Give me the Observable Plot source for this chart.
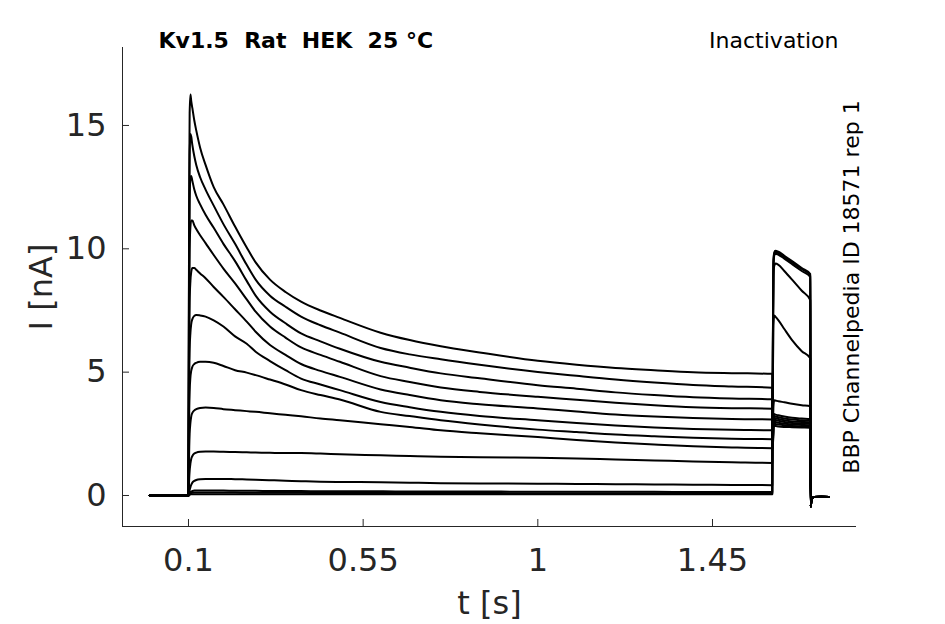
<!DOCTYPE html>
<html><head><meta charset="utf-8">
<script src="https://cdn.jsdelivr.net/npm/d3@7"></script>
<script src="https://cdn.jsdelivr.net/npm/@observablehq/plot@0.6"></script>
<style>body{margin:0;background:#fff} svg{display:block}</style>
</head><body><div id="chart"></div>
<script>
// ---- text ----
const title = "Kv1.5  Rat  HEK  25 °C";
const protocol = "Inactivation";
const sourceLabel = "BBP Channelpedia ID 18571 rep 1";
const xLabel = "t [s]";
const yLabel = "I [nA]";
const xTicks = [0.1, 0.55, 1, 1.45];
const xTickLabels = ["0.1", "0.55", "1", "1.45"];
const yTicks = [0, 5, 10, 15];
const xDomain = [-0.07, 1.821];
const yDomain = [-1.257, 18.16];

// ---- sample times (s) ----
const tPre = [0, 0.0998, 0.1, 0.101, 0.102, 0.103, 0.105, 0.107, 0.11, 0.115, 0.12, 0.13, 0.144, 0.165, 0.19, 0.22, 0.25, 0.273, 0.31, 0.35, 0.39, 0.44, 0.49, 0.595, 0.67, 0.75, 0.85, 1.0, 1.1, 1.2, 1.3, 1.4, 1.5, 1.604];
const tTest = [1.6055, 1.607, 1.609, 1.612, 1.62, 1.635, 1.655, 1.68, 1.702];
const tTail = [1.703, 1.7045, 1.707, 1.712, 1.73, 1.75];
const iTail = [-0.45, -0.25, -0.1, -0.06, -0.05, -0.06];

// ---- currents (nA), prepulse part ----
const pre1 = [0, 0, 0, 8, 13, 15.5, 16.25, 16.0, 15.7, 15.2, 14.8, 14.1, 13.4, 12.5, 11.8, 10.9, 10.05, 9.45, 8.75, 8.25, 7.86, 7.5, 7.2, 6.6, 6.3, 6.05, 5.8, 5.46, 5.3, 5.17, 5.08, 5.0, 4.96, 4.93];
const pre2 = [0, 0, 0, 7, 11.5, 13.8, 14.65, 14.55, 14.2, 13.75, 13.4, 12.9, 12.4, 11.75, 11.0, 10.2, 9.35, 8.75, 8.1, 7.65, 7.25, 6.9, 6.6, 5.98, 5.72, 5.52, 5.3, 5.01, 4.85, 4.7, 4.58, 4.48, 4.42, 4.37];
const pre3 = [0, 0, 0, 6, 10, 12, 12.9, 12.95, 12.75, 12.4, 12.15, 11.8, 11.38, 10.85, 10.2, 9.5, 8.7, 8.1, 7.45, 6.98, 6.57, 6.25, 5.95, 5.42, 5.18, 4.95, 4.75, 4.47, 4.33, 4.18, 4.07, 3.98, 3.93, 3.9];
const pre4 = [0, 0, 0, 5, 8.5, 10.0, 10.9, 11.15, 11.15, 10.95, 10.8, 10.55, 10.23, 9.75, 9.2, 8.6, 7.95, 7.45, 6.85, 6.4, 6.0, 5.7, 5.42, 4.84, 4.6, 4.38, 4.2, 4.0, 3.88, 3.76, 3.66, 3.58, 3.54, 3.52];
const pre5 = [0, 0, 0, 4, 6.5, 7.8, 8.7, 9.05, 9.22, 9.22, 9.15, 9.0, 8.81, 8.45, 8.05, 7.55, 7.05, 6.64, 6.1, 5.7, 5.33, 5.05, 4.81, 4.3, 4.07, 3.86, 3.7, 3.53, 3.4, 3.28, 3.2, 3.14, 3.1, 3.08];
const pre6 = [0, 0, 0, 3, 5, 5.9, 6.6, 6.95, 7.15, 7.28, 7.32, 7.3, 7.25, 7.1, 6.85, 6.45, 6.15, 5.83, 5.45, 5.08, 4.74, 4.5, 4.27, 3.79, 3.58, 3.39, 3.22, 3.05, 2.94, 2.84, 2.76, 2.7, 2.66, 2.64];
const pre7 = [0, 0, 0, 2, 3.5, 4.2, 4.8, 5.05, 5.22, 5.33, 5.38, 5.42, 5.42, 5.38, 5.25, 5.08, 4.98, 4.88, 4.7, 4.5, 4.27, 4.07, 3.89, 3.39, 3.22, 3.05, 2.88, 2.67, 2.57, 2.47, 2.4, 2.34, 2.3, 2.28];
const pre8 = [0, 0, 0, 1.2, 2.0, 2.5, 2.95, 3.2, 3.35, 3.45, 3.5, 3.55, 3.57, 3.55, 3.5, 3.46, 3.42, 3.39, 3.33, 3.27, 3.21, 3.12, 3.05, 2.89, 2.78, 2.64, 2.52, 2.37, 2.25, 2.15, 2.07, 2.0, 1.95, 1.92];
const pre9 = [0, 0, 0, 0.4, 0.75, 1.0, 1.3, 1.48, 1.6, 1.7, 1.74, 1.77, 1.78, 1.78, 1.77, 1.76, 1.75, 1.74, 1.73, 1.72, 1.72, 1.7, 1.67, 1.63, 1.6, 1.57, 1.55, 1.53, 1.5, 1.46, 1.42, 1.38, 1.35, 1.32];
const pre10 = [0, 0, 0, 0.08, 0.15, 0.22, 0.34, 0.43, 0.52, 0.59, 0.63, 0.66, 0.67, 0.67, 0.67, 0.66, 0.65, 0.64, 0.62, 0.6, 0.58, 0.56, 0.55, 0.54, 0.52, 0.5, 0.49, 0.48, 0.47, 0.46, 0.45, 0.44, 0.43, 0.42];
const pre11 = [0, 0, 0, 0.03, 0.06, 0.09, 0.13, 0.16, 0.18, 0.2, 0.2, 0.2, 0.2, 0.2, 0.2, 0.19, 0.19, 0.19, 0.18, 0.18, 0.18, 0.17, 0.17, 0.17, 0.16, 0.16, 0.16, 0.15, 0.15, 0.15, 0.15, 0.14, 0.14, 0.14];
const pre12 = [0, 0, 0, 0.02, 0.04, 0.06, 0.08, 0.1, 0.11, 0.12, 0.12, 0.12, 0.12, 0.12, 0.12, 0.12, 0.11, 0.11, 0.11, 0.11, 0.11, 0.1, 0.1, 0.1, 0.1, 0.1, 0.1, 0.09, 0.09, 0.09, 0.09, 0.09, 0.09, 0.09];
const pre13 = [0, 0, 0, 0.01, 0.02, 0.03, 0.04, 0.05, 0.05, 0.05, 0.05, 0.05, 0.05, 0.05, 0.05, 0.05, 0.05, 0.05, 0.05, 0.05, 0.05, 0.05, 0.05, 0.05, 0.05, 0.05, 0.05, 0.05, 0.05, 0.05, 0.05, 0.05, 0.05, 0.05];

// ---- currents (nA), test pulse part ----
const test1 = [1.9, 2.75, 2.82, 2.82, 2.8, 2.78, 2.77, 2.76, 2.75];
const test2 = [1.9, 2.82, 2.92, 2.9, 2.88, 2.85, 2.82, 2.8, 2.79];
const test3 = [2.0, 2.9, 3.0, 2.98, 2.95, 2.91, 2.88, 2.86, 2.84];
const test4 = [2.0, 2.98, 3.08, 3.06, 3.03, 2.98, 2.94, 2.92, 2.9];
const test5 = [2.1, 3.05, 3.15, 3.13, 3.1, 3.05, 3.0, 2.98, 2.96];
const test6 = [2.1, 3.1, 3.22, 3.2, 3.17, 3.12, 3.08, 3.05, 3.03];
const test7 = [2.2, 3.2, 3.3, 3.28, 3.25, 3.2, 3.15, 3.12, 3.1];
const test8 = [2.5, 3.6, 3.86, 3.85, 3.82, 3.78, 3.72, 3.66, 3.62];
const test9 = [4.5, 6.9, 7.3, 7.25, 7.1, 6.75, 6.3, 5.85, 5.56];
const test10 = [5.5, 8.9, 9.3, 9.4, 9.35, 9.1, 8.75, 8.3, 7.92];
const test11 = [5.6, 9.3, 9.72, 9.8, 9.76, 9.6, 9.38, 9.1, 8.86];
const test12 = [5.8, 9.4, 9.8, 9.86, 9.82, 9.66, 9.45, 9.18, 8.93];
const test13 = [6.0, 9.5, 9.85, 9.92, 9.88, 9.72, 9.5, 9.22, 8.98];

const sweeps = [
  [pre1, test1], [pre2, test2], [pre3, test3], [pre4, test4], [pre5, test5],
  [pre6, test6], [pre7, test7], [pre8, test8], [pre9, test9], [pre10, test10],
  [pre11, test11], [pre12, test12], [pre13, test13]
];

const rows = [];
sweeps.forEach(([pre, test], k) => {
  tPre.forEach((t, i) => rows.push({sweep: k, t, i: pre[i]}));
  tTest.forEach((t, i) => rows.push({sweep: k, t, i: test[i]}));
  tTail.forEach((t, i) => rows.push({sweep: k, t, i: iTail[i]}));
});

const ink = "#262626";
const chart = Plot.plot({
  width: 945, height: 624,
  marginLeft: 122, marginRight: 89, marginTop: 47, marginBottom: 98,
  style: {fontFamily: "DejaVu Sans", background: "#fff", color: ink},
  x: {domain: xDomain},
  y: {domain: yDomain},
  marks: [
    Plot.line(rows, {x: "t", y: "i", z: "sweep", curve: "monotone-x", stroke: "#000", strokeWidth: 2, strokeLinejoin: "round"}),
    Plot.ruleX([xDomain[0]], {stroke: ink, strokeWidth: 1}),
    Plot.ruleY([yDomain[0]], {stroke: ink, strokeWidth: 1}),
    Plot.tickX(xTicks, {x: d => d, insetTop: 472, stroke: ink}),
    Plot.tickY(yTicks, {y: d => d, insetRight: 727, stroke: ink}),
    Plot.axisX({ticks: xTicks, tickSize: 0, tickPadding: 22, fontSize: 32, fill: ink, label: null,
      tickFormat: d => xTickLabels[xTicks.indexOf(d)]}),
    Plot.axisY({ticks: yTicks, tickSize: 0, tickPadding: 16, fontSize: 32, fill: ink, label: null}),
    Plot.text([xLabel], {text: d => d, frameAnchor: "bottom", dy: 87, lineAnchor: "bottom", textAnchor: "middle", fontSize: 32, fill: ink}),
    Plot.text([yLabel], {text: d => d, frameAnchor: "left", dx: -71, rotate: -90, lineAnchor: "bottom", textAnchor: "middle", fontSize: 32, fill: ink}),
    Plot.text([title], {text: d => d, frameAnchor: "top-left", dx: 36, lineAnchor: "bottom", textAnchor: "start", fontSize: 22, fontWeight: "bold", fill: "#000"}),
    Plot.text([protocol], {text: d => d, frameAnchor: "top-right", dx: -18, lineAnchor: "bottom", textAnchor: "end", fontSize: 22, fill: "#000"}),
    Plot.text([sourceLabel], {text: d => d, frameAnchor: "right", dx: 2, rotate: -90, lineAnchor: "bottom", textAnchor: "middle", fontSize: 22, fill: "#000"})
  ]
});
document.getElementById("chart").appendChild(chart);
</script>
</body></html>
